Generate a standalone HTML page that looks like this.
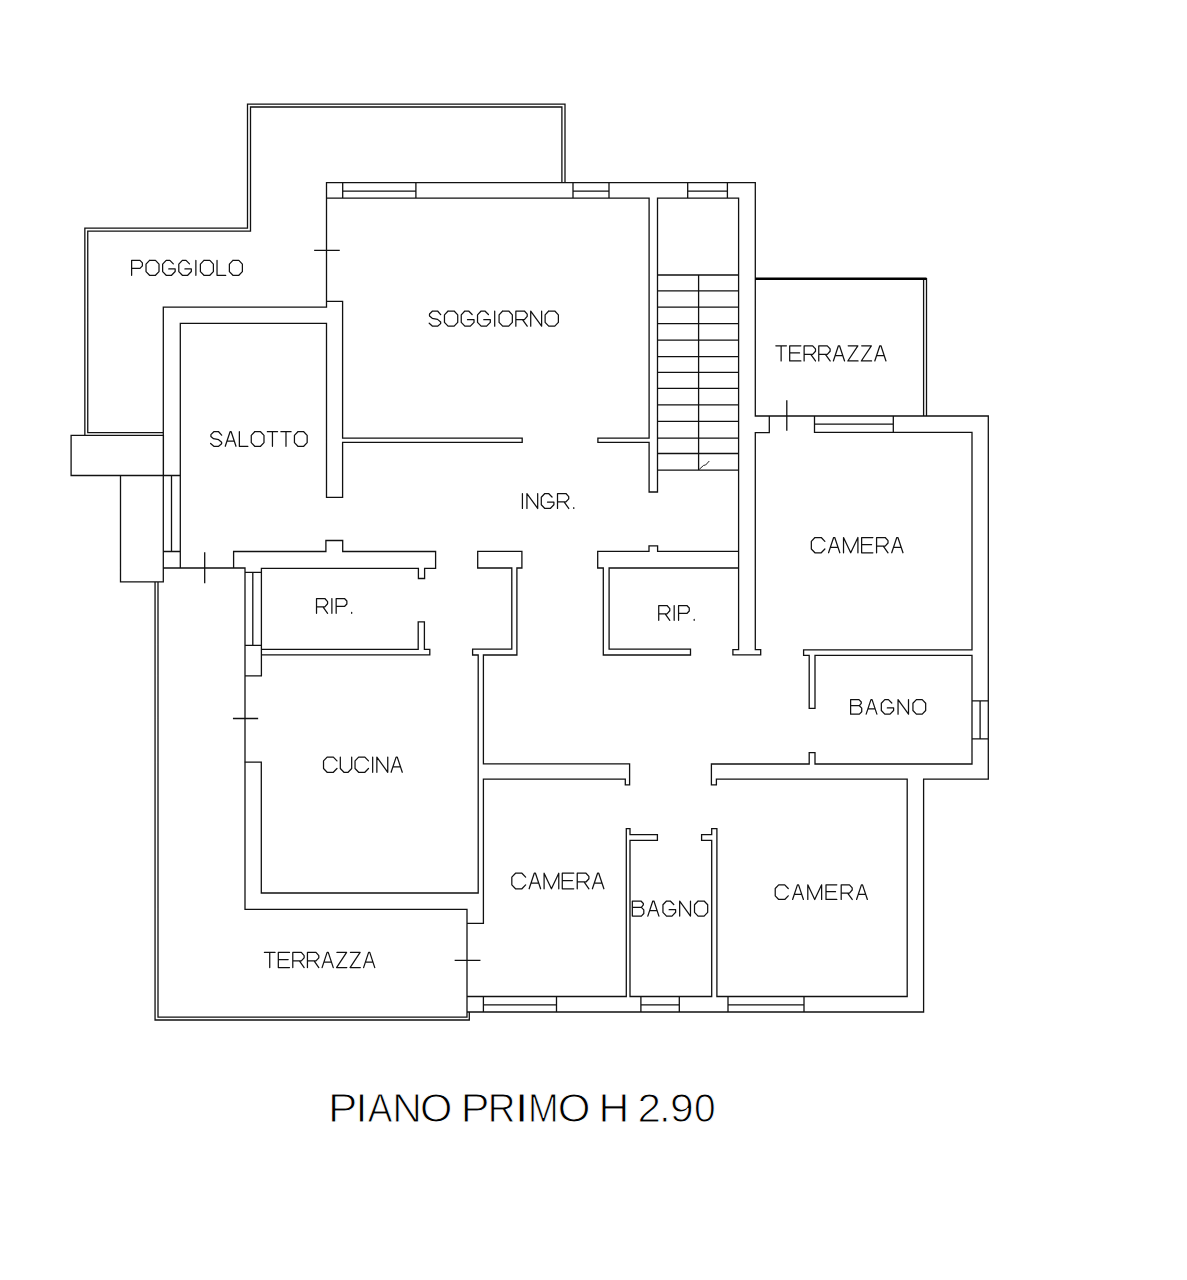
<!DOCTYPE html><html><head><meta charset="utf-8"><style>html,body{margin:0;padding:0;background:#fff;width:1187px;height:1280px;overflow:hidden}svg{display:block}</style></head><body>
<svg width="1187" height="1280" viewBox="0 0 1187 1280">
<rect width="1187" height="1280" fill="#fff"/>
<path d="M84.85 435.4 L84.85 228.2 L247.5 228.2 L247.5 104.2 L565 104.2 L565 182.6 M87.75 432.6 L87.75 231.1 L250.5 231.1 L250.5 107 L561.9 107 L561.9 182.6 M87.75 432.6 L163.3 432.6 M71.1 435.4 L163.4 435.4 L163.4 475.5 L71.1 475.5 L71.1 435.4 M120.5 475.5 L120.5 581.8 L163.3 581.8 M163.3 307.2 L163.3 581.8 M326.5 182.6 L326.5 307.2 L163.3 307.2 M326.5 301.4 L342.6 301.4 L342.6 438.1 L522.2 438.1 L522.2 442.3 L342.6 442.3 L342.6 497.3 L326.5 497.3 L326.5 323.4 L180.3 323.4 L180.3 568 M163.3 475.5 L180.3 475.5 M171.5 475.5 L171.5 551.5 M163.3 551.5 L180.3 551.5 M326.5 182.6 L755.3 182.6 L755.3 416 M326.5 198.1 L649.1 198.1 L649.1 438.1 L597.9 438.1 L597.9 442.3 L649.1 442.3 L649.1 492 L657.5 492 L657.5 198.1 L738.6 198.1 L738.6 649.6 L732.9 649.6 L732.9 654.8 L760.7 654.8 L760.7 649.6 L755.3 649.6 L755.3 432.7 L769.3 432.7 L769.3 416 M342.7 182.6 L342.7 198.1 M415.9 182.6 L415.9 198.1 M342.7 191.2 L415.9 191.2 M573 182.6 L573 198.1 M609 182.6 L609 198.1 M573 191.2 L609 191.2 M687.7 182.6 L687.7 198.1 M727.4 182.6 L727.4 198.1 M687.7 191.2 L727.4 191.2 M314.8 250.3 L339.1 250.3 M657.5 275 L738.6 275 M657.5 290.8 L738.6 290.8 M657.5 307.2 L738.6 307.2 M657.5 323.6 L738.6 323.6 M657.5 340.2 L738.6 340.2 M657.5 356.6 L738.6 356.6 M657.5 372.4 L738.6 372.4 M657.5 388.4 L738.6 388.4 M657.5 404.9 L738.6 404.9 M657.5 421.3 L738.6 421.3 M657.5 438.2 L738.6 438.2 M657.5 453.5 L738.6 453.5 M657.5 470.1 L738.6 470.1 M698.6 275 L698.6 470.1 M923.6 278.7 L923.6 416 M926.5 278.7 L926.5 416 M755.3 416 L988.3 416 L988.3 779.2 L923.6 779.2 L923.6 1012 L467 1012 M786.8 401 L786.8 430 M814.5 416 L814.5 432.4 L972 432.4 L972 649.8 M893.3 416 L893.3 432.4 M814.5 424.1 L893.3 424.1 M803.6 649.8 L972 649.8 M972 655.4 L815 655.4 L815 708.4 L809.2 708.4 L809.2 655.4 L803.6 655.4 L803.6 649.8 M972 655.4 L972 764 L815 764 L815 752.7 L809.2 752.7 L809.2 764 L711.4 764 L711.4 784.8 L716.4 784.8 L716.4 779.2 L907.2 779.2 L907.2 996.5 L716.9 996.5 M972 700.9 L988.3 700.9 M972 738.8 L988.3 738.8 M980.1 700.9 L980.1 738.8 M716.9 996.5 L716.9 828.7 L711.7 828.7 L711.7 834.7 L701.6 834.7 L701.6 840.3 L711.7 840.3 L711.7 996.5 L630 996.5 L630 840.4 L657.4 840.4 L657.4 834.6 L630 834.6 L630 828.7 L626.3 828.7 L626.3 996.5 L467 996.5 M483.4 996.5 L483.4 1012 M556.5 996.5 L556.5 1012 M483.4 1004.8 L556.5 1004.8 M640.9 996.5 L640.9 1012 M679.3 996.5 L679.3 1012 M640.9 1004.8 L679.3 1004.8 M728 996.5 L728 1012 M804 996.5 L804 1012 M728 1004.8 L804 1004.8 M597.7 551.3 L649 551.3 L649 545.8 L657.6 545.8 L657.6 551.3 L738.6 551.3 M597.7 551.3 L597.7 568 L603.3 568 L603.3 655 L690.5 655 L690.5 649.2 L609.1 649.2 L609.1 568 L738.6 568 M483.4 655 L516.9 655 L516.9 568 L521.9 568 L521.9 551.3 L477.7 551.3 L477.7 568 L511.8 568 L511.8 649.2 L472.6 649.2 L472.6 655 L478.2 655 M478.2 655 L478.2 893 L261.3 893 L261.3 762.2 L244.9 762.2 M483.4 655 L483.4 763.9 L629.6 763.9 L629.6 784.8 L625.3 784.8 L625.3 779.1 L483.4 779.1 L483.4 923.3 L467 923.3 M163.3 568 L245 568 L245 909.3 L467 909.3 L467 1017.2 L158 1017.2 L158 581.8 M155.05 581.8 L155.05 1020 L469.3 1020 L469.3 1012 M233.6 551.5 L233.6 568 M233.6 551.5 L325.9 551.5 L325.9 540.5 L342.7 540.5 L342.7 551.5 L435.6 551.5 L435.6 568.3 L424.6 568.3 L424.6 578.5 L418.4 578.5 L418.4 568.3 L261.4 568.3 L261.4 675.8 L245 675.8 M245 572.3 L261.4 572.3 M252.8 572.3 L252.8 645.4 M245 645.4 L261.4 645.4 M261.4 649.4 L418.2 649.4 L418.2 621.9 L424.4 621.9 L424.4 649.4 L429.8 649.4 L429.8 654.8 L261.4 654.8 M204.7 552.8 L204.7 582.5 M233.6 718.5 L257.5 718.5 M455.3 960.3 L479.8 960.3" fill="none" stroke="#111" stroke-width="1.3" stroke-linecap="square" stroke-linejoin="miter"/>
<path d="M755.3 278.7 L926.5 278.7" fill="none" stroke="#000" stroke-width="2.4"/>
<path d="M699.2 469.4 L703.6 465.4 L705.6 465.0 L709.3 461.0" fill="none" stroke="#222" stroke-width="1.0"/>
<path d="M131.62 275.27 L131.62 260.43 L139.98 260.43 L142.39 262.93 L142.39 265.9 L139.98 268.41 L131.62 268.41 M149.55 260.43 L155.49 260.43 L159.01 264.14 L159.01 271.56 L155.49 275.27 L149.55 275.27 L146.02 271.56 L146.02 264.14 L149.55 260.43 M173.32 263.86 L169.88 260.43 L166.17 260.43 L162.64 264.14 L162.64 271.56 L166.17 275.27 L171.55 275.27 L175.17 271.56 L175.17 268.96 L168.77 268.96 M189.48 263.86 L186.04 260.43 L182.33 260.43 L178.8 264.14 L178.8 271.56 L182.33 275.27 L187.71 275.27 L191.33 271.56 L191.33 268.96 L184.93 268.96 M195.87 260.43 L195.87 275.27 M203.93 260.43 L209.87 260.43 L213.4 264.14 L213.4 271.56 L209.87 275.27 L203.93 275.27 L200.4 271.56 L200.4 264.14 L203.93 260.43 M217.03 260.43 L217.03 275.27 L225.75 275.27 M232.91 260.43 L238.85 260.43 L242.38 264.14 L242.38 271.56 L238.85 275.27 L232.91 275.27 L229.38 271.56 L229.38 264.14 L232.91 260.43 M440.68 314.62 L437.56 311.02 L432.54 311.02 L429.51 314.06 L429.51 316.04 L432.26 318.32 L437.56 319.36 L440.68 321.91 L440.68 323.62 L437.56 326.18 L432.54 326.18 L429.23 323.24 M448.07 311.02 L454.13 311.02 L457.73 314.81 L457.73 322.39 L454.13 326.18 L448.07 326.18 L444.47 322.39 L444.47 314.81 L448.07 311.02 M472.13 314.53 L468.63 311.02 L464.84 311.02 L461.24 314.81 L461.24 322.39 L464.84 326.18 L470.33 326.18 L474.02 322.39 L474.02 319.74 L467.49 319.74 M488.42 314.53 L484.92 311.02 L481.13 311.02 L477.53 314.81 L477.53 322.39 L481.13 326.18 L486.62 326.18 L490.31 322.39 L490.31 319.74 L483.78 319.74 M494.7 311.02 L494.7 326.18 M502.68 311.02 L508.74 311.02 L512.34 314.81 L512.34 322.39 L508.74 326.18 L502.68 326.18 L499.09 322.39 L499.09 314.81 L502.68 311.02 M515.85 326.18 L515.85 311.02 L524.37 311.02 L527.21 314.15 L527.21 316.42 L524.37 319.55 L515.85 319.55 M522.48 319.55 L527.21 326.18 M530.72 326.18 L530.72 311.02 L541.61 326.18 L541.61 311.02 M548.72 311.02 L554.78 311.02 L558.38 314.81 L558.38 322.39 L554.78 326.18 L548.72 326.18 L545.12 322.39 L545.12 314.81 L548.72 311.02 M775.83 345.82 L786.43 345.82 M781.13 345.82 L781.13 360.98 M800.87 345.82 L789.69 345.82 L789.69 360.98 L800.87 360.98 M789.69 352.93 L799.54 352.93 M804.13 360.98 L804.13 345.82 L812.65 345.82 L815.49 348.95 L815.49 351.22 L812.65 354.35 L804.13 354.35 M810.76 354.35 L815.49 360.98 M818.76 360.98 L818.76 345.82 L827.28 345.82 L830.12 348.95 L830.12 351.22 L827.28 354.35 L818.76 354.35 M825.39 354.35 L830.12 360.98 M833.38 360.98 L838.4 345.82 L839.54 345.82 L844.56 360.98 M835.18 355.58 L842.76 355.58 M848.2 345.82 L857.86 345.82 L847.82 360.98 L858.05 360.98 M861.69 345.82 L871.35 345.82 L861.31 360.98 L871.54 360.98 M874.8 360.98 L879.82 345.82 L880.96 345.82 L885.97 360.98 M876.6 355.58 L884.18 355.58 M221.63 435.18 L218.63 431.73 L213.81 431.73 L210.9 434.63 L210.9 436.54 L213.53 438.73 L218.63 439.73 L221.63 442.18 L221.63 443.82 L218.63 446.27 L213.81 446.27 L210.62 443.46 M225.26 446.27 L230.08 431.73 L231.17 431.73 L235.99 446.27 M226.99 441.09 L234.26 441.09 M239.35 431.73 L239.35 446.27 L247.9 446.27 M254.72 431.73 L260.54 431.73 L263.99 435.36 L263.99 442.64 L260.54 446.27 L254.72 446.27 L251.26 442.64 L251.26 435.36 L254.72 431.73 M267.35 431.73 L277.54 431.73 M272.45 431.73 L272.45 446.27 M280.9 431.73 L291.08 431.73 M285.99 431.73 L285.99 446.27 M297.9 431.73 L303.72 431.73 L307.17 435.36 L307.17 442.64 L303.72 446.27 L297.9 446.27 L294.44 442.64 L294.44 435.36 L297.9 431.73 M522.42 493.52 L522.42 508.48 M526.94 508.48 L526.94 493.52 L537.68 508.48 L537.68 493.52 M552.03 496.98 L548.58 493.52 L544.84 493.52 L541.29 497.26 L541.29 504.74 L544.84 508.48 L550.26 508.48 L553.9 504.74 L553.9 502.12 L547.46 502.12 M557.51 508.48 L557.51 493.52 L565.92 493.52 L568.72 496.61 L568.72 498.85 L565.92 501.93 L557.51 501.93 M564.05 501.93 L568.72 508.48 M573.77 507.63 L573.77 508.48 M824.86 541.34 L821.24 537.52 L814.95 537.52 L811.33 541.34 L811.33 548.96 L814.95 552.77 L821.24 552.77 L824.86 548.96 M828.57 552.77 L833.62 537.52 L834.76 537.52 L839.82 552.77 M830.38 547.34 L838 547.34 M843.52 552.77 L843.52 537.52 L850.72 552.77 L857.92 537.52 L857.92 552.77 M872.87 537.52 L861.63 537.52 L861.63 552.77 L872.87 552.77 M861.63 544.67 L871.54 544.67 M876.58 552.77 L876.58 537.52 L885.16 537.52 L888.02 540.67 L888.02 542.96 L885.16 546.1 L876.58 546.1 M883.25 546.1 L888.02 552.77 M891.73 552.77 L896.78 537.52 L897.92 537.52 L902.97 552.77 M893.54 547.34 L901.16 547.34 M316.52 613.27 L316.52 598.52 L324.82 598.52 L327.59 601.57 L327.59 603.78 L324.82 606.82 L316.52 606.82 M322.98 606.82 L327.59 613.27 M331.88 598.52 L331.88 613.27 M336.17 613.27 L336.17 598.52 L344.47 598.52 L346.87 601.01 L346.87 603.96 L344.47 606.45 L336.17 606.45 M351.68 612.45 L351.68 613.27 M658.73 620.27 L658.73 605.52 L667.02 605.52 L669.79 608.57 L669.79 610.78 L667.02 613.82 L658.73 613.82 M665.18 613.82 L669.79 620.27 M674.18 605.52 L674.18 620.27 M678.57 620.27 L678.57 605.52 L686.86 605.52 L689.26 608.01 L689.26 610.96 L686.86 613.45 L678.57 613.45 M694.18 619.45 L694.18 620.27 M850.62 699.62 L850.62 714.17 L859.36 714.17 L861.72 711.72 L861.72 708.17 L859.36 705.72 L850.62 705.72 M850.62 699.62 L858.99 699.62 L861.26 701.99 L861.26 703.35 L859.36 705.72 M866.16 714.17 L870.98 699.62 L872.07 699.62 L876.89 714.17 M867.89 708.99 L875.16 708.99 M891.79 702.99 L888.42 699.62 L884.79 699.62 L881.33 703.26 L881.33 710.54 L884.79 714.17 L890.06 714.17 L893.61 710.54 L893.61 707.99 L887.33 707.99 M898.05 714.17 L898.05 699.62 L908.5 714.17 L908.5 699.62 M916.4 699.62 L922.22 699.62 L925.67 703.26 L925.67 710.54 L922.22 714.17 L916.4 714.17 L912.94 710.54 L912.94 703.26 L916.4 699.62 M336.97 760.91 L333.37 757.12 L327.12 757.12 L323.52 760.91 L323.52 768.49 L327.12 772.27 L333.37 772.27 L336.97 768.49 M340.32 757.12 L340.32 768.49 L343.92 772.27 L348.09 772.27 L351.68 768.49 L351.68 757.12 M368.48 760.91 L364.88 757.12 L358.63 757.12 L355.04 760.91 L355.04 768.49 L358.63 772.27 L364.88 772.27 L368.48 768.49 M372.67 757.12 L372.67 772.27 M376.86 772.27 L376.86 757.12 L387.75 772.27 L387.75 757.12 M391.1 772.27 L396.12 757.12 L397.26 757.12 L402.27 772.27 M392.9 766.88 L400.48 766.88 M525.63 877.11 L521.93 873.23 L515.52 873.23 L511.82 877.11 L511.82 884.89 L515.52 888.77 L521.93 888.77 L525.63 884.89 M529.13 888.77 L534.28 873.23 L535.44 873.23 L540.6 888.77 M530.97 883.24 L538.75 883.24 M544.1 888.77 L544.1 873.23 L551.43 888.77 L558.77 873.23 L558.77 888.77 M573.74 873.23 L562.27 873.23 L562.27 888.77 L573.74 888.77 M562.27 880.51 L572.38 880.51 M577.24 888.77 L577.24 873.23 L585.99 873.23 L588.91 876.43 L588.91 878.76 L585.99 881.97 L577.24 881.97 M584.05 881.97 L588.91 888.77 M592.41 888.77 L597.56 873.23 L598.72 873.23 L603.88 888.77 M594.25 883.24 L602.03 883.24 M632.33 901.02 L632.33 916.08 L641.36 916.08 L643.8 913.54 L643.8 909.87 L641.36 907.33 L632.33 907.33 M632.33 901.02 L640.98 901.02 L643.33 903.47 L643.33 904.88 L641.36 907.33 M647.82 916.08 L652.81 901.02 L653.94 901.02 L658.92 916.08 M649.61 910.71 L657.14 910.71 M673.76 904.51 L670.28 901.02 L666.52 901.02 L662.95 904.79 L662.95 912.31 L666.52 916.08 L671.98 916.08 L675.64 912.31 L675.64 909.68 L669.15 909.68 M679.67 916.08 L679.67 901.02 L690.48 916.08 L690.48 901.02 M698.08 901.02 L704.1 901.02 L707.68 904.79 L707.68 912.31 L704.1 916.08 L698.08 916.08 L694.51 912.31 L694.51 904.79 L698.08 901.02 M788.23 888.49 L784.75 884.83 L778.7 884.83 L775.23 888.49 L775.23 895.81 L778.7 899.48 L784.75 899.48 L788.23 895.81 M792.61 899.48 L797.46 884.83 L798.56 884.83 L803.42 899.48 M794.35 894.26 L801.68 894.26 M807.8 899.48 L807.8 884.83 L814.71 899.48 L821.63 884.83 L821.63 899.48 M836.81 884.83 L826.01 884.83 L826.01 899.48 L836.81 899.48 M826.01 891.69 L835.53 891.69 M841.2 899.48 L841.2 884.83 L849.44 884.83 L852.19 887.85 L852.19 890.04 L849.44 893.07 L841.2 893.07 M847.61 893.07 L852.19 899.48 M856.57 899.48 L861.42 884.83 L862.52 884.83 L867.37 899.48 M858.31 894.26 L865.64 894.26 M264.43 952.42 L275.03 952.42 M269.73 952.42 L269.73 967.58 M289.5 952.42 L278.32 952.42 L278.32 967.58 L289.5 967.58 M278.32 959.53 L288.17 959.53 M292.79 967.58 L292.79 952.42 L301.31 952.42 L304.15 955.55 L304.15 957.82 L301.31 960.95 L292.79 960.95 M299.42 960.95 L304.15 967.58 M307.44 967.58 L307.44 952.42 L315.97 952.42 L318.81 955.55 L318.81 957.82 L315.97 960.95 L307.44 960.95 M314.07 960.95 L318.81 967.58 M322.1 967.58 L327.12 952.42 L328.25 952.42 L333.27 967.58 M323.9 962.18 L331.47 962.18 M336.94 952.42 L346.6 952.42 L336.56 967.58 L346.79 967.58 M350.46 952.42 L360.12 952.42 L350.08 967.58 L360.31 967.58 M363.6 967.58 L368.62 952.42 L369.76 952.42 L374.77 967.58 M365.4 962.18 L372.98 962.18" fill="none" stroke="#111" stroke-width="1.25" stroke-linejoin="round" stroke-linecap="round"/>
<g font-family="Liberation Sans, sans-serif" font-size="41.28" fill="#000" stroke="#fff" stroke-width="1">
<text transform="translate(327.99 1122) scale(1.0651 1)">P</text>
<text transform="translate(355.34 1122) scale(1.0910 1)">I</text>
<text transform="translate(367.63 1122) scale(0.8951 1)">A</text>
<text transform="translate(392.24 1122) scale(0.9931 1)">N</text>
<text transform="translate(419.93 1122) scale(1.0079 1)">O</text>
<text transform="translate(460.67 1122) scale(1.0423 1)">P</text>
<text transform="translate(487.65 1122) scale(0.9302 1)">R</text>
<text transform="translate(514.05 1122) scale(1.3247 1)">I</text>
<text transform="translate(527.88 1122) scale(0.8909 1)">M</text>
<text transform="translate(557.81 1122) scale(1.0185 1)">O</text>
<text transform="translate(598.6 1122) scale(1.0322 1)">H</text>
<text transform="translate(637.58 1122) scale(1.0210 1)">2</text>
<text transform="translate(659.36 1122) scale(0.9668 1)">.</text>
<text transform="translate(670.1 1122) scale(1.0332 1)">9</text>
<text transform="translate(693.88 1122) scale(0.9426 1)">0</text>
</g>
</svg></body></html>
